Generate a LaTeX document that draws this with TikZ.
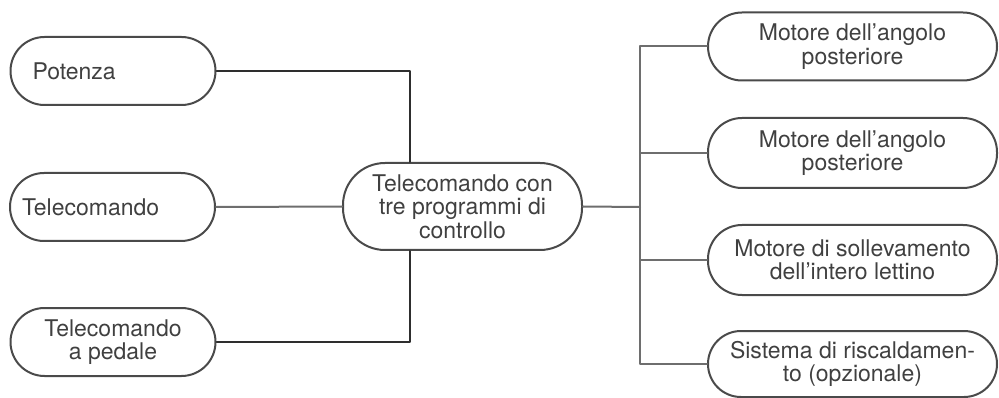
\documentclass[tikz,border=0pt]{standalone}
\usepackage{fontspec}
\setmainfont{TeX Gyre Heros}
\definecolor{boxgray}{HTML}{4A4A4A}
\definecolor{txtgray}{HTML}{404040}
\definecolor{wiredark}{HTML}{2E2E2E}
\definecolor{wiregray}{HTML}{6E6E6E}
\begin{document}
\begin{tikzpicture}[x=1pt, y=-1pt, line cap=round, line join=round, font=\fontsize{23}{23.3}\selectfont]
	\tikzset{box/.style={draw=boxgray, line width=2pt, rounded corners=34pt, minimum height=68pt, text=txtgray, align=center, inner sep=0pt},
		wire/.style={line width=2pt, draw=wiregray}}
	\useasboundingbox (0,0) rectangle (999,398);
	% left side
	\node[box, minimum width=205pt, text width=161pt, inner xsep=22pt, align=left] (pot) at (113,71) {Potenza};
	\node[box, minimum width=205pt, text width=181pt, inner xsep=12pt, align=left] (tel) at (112.5,207) {Telecomando};
	\node[box, minimum width=205pt] (ped) at (113,342) {Telecomando\\a pedale};
	% centre
	\node[box, minimum width=239pt, minimum height=87pt, rounded corners=42pt] (ctr) at (462.5,206.5) {Telecomando con\\tre programmi di\\controllo};
	% right side
	\node[box, minimum width=289pt] (m1) at (852.5,46.5) {Motore dell'angolo\\posteriore};
	\node[box, minimum width=289pt, minimum height=70pt] (m2) at (852.5,153) {Motore dell'angolo\\posteriore};
	\node[box, minimum width=289pt, minimum height=70pt] (m3) at (852.5,260) {Motore di sollevamento\\dell'intero lettino};
	\node[box, minimum width=289pt, minimum height=66pt, rounded corners=33pt] (m4) at (852.5,364) {Sistema di riscaldamen-\\to (opzionale)};
	\coordinate (lbus) at (410,207);
	\coordinate (rbus) at (640,207);
	\draw[wire, draw=wiredark] (pot.east) -| (lbus |- ctr.north);
	\draw[wire, draw=wiredark] (ped.east) -| (lbus |- ctr.south);
	\draw[wire] (tel.east) -- (ctr.west);
	\draw[wire] (ctr.east) -- (rbus);
	\draw[wire] (m1.west) -- (m1.west -| rbus) -- (m4.west -| rbus) -- (m4.west);
	\foreach \m in {m2,m3}
		\draw[wire] (\m.west) -- (\m.west -| rbus);
\end{tikzpicture}
\end{document}
